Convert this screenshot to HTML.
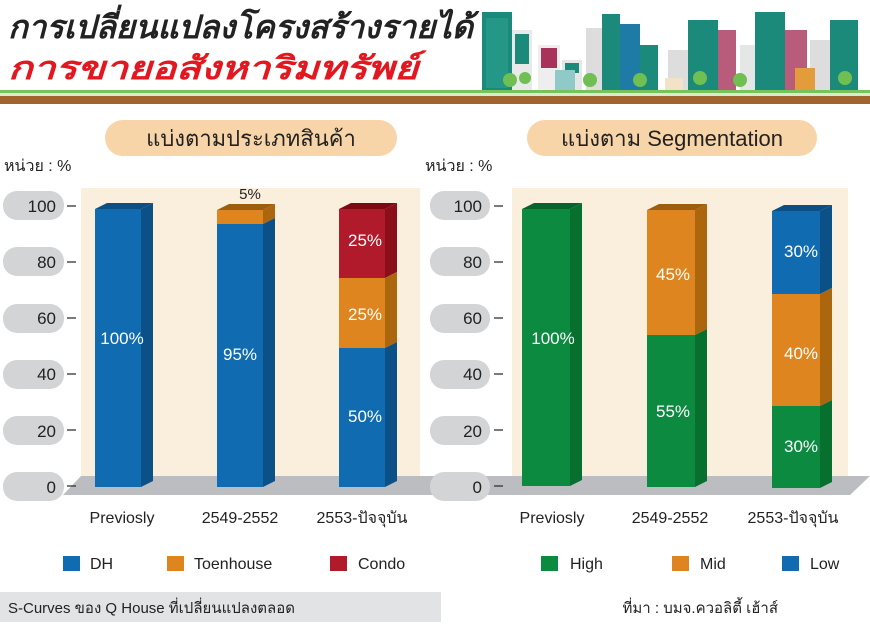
<!DOCTYPE html>
<html><head><meta charset="utf-8"><style>
body{margin:0;width:870px;height:622px;overflow:hidden;background:#fff;font-family:"Liberation Sans","Noto Sans CJK SC",sans-serif}
svg text{font-family:"Liberation Sans","Noto Sans CJK SC",sans-serif}
</style></head><body>
<svg width="870" height="622" xmlns="http://www.w3.org/2000/svg">
<!-- header -->
<text x="8" y="38" font-size="32" font-weight="bold" font-style="italic" fill="#222" textLength="465" lengthAdjust="spacingAndGlyphs">การเปลี่ยนแปลงโครงสร้างรายได้</text>
<text x="8" y="79" font-size="32" font-weight="bold" font-style="italic" fill="#e3171f" textLength="410" lengthAdjust="spacingAndGlyphs">การขายอสังหาริมทรัพย์</text>
<!-- buildings -->
<g>
<rect x="482" y="12" width="30" height="80" fill="#1c8a7a"/><rect x="486" y="18" width="22" height="70" fill="#2aa090" opacity=".6"/>
<rect x="512" y="30" width="20" height="62" fill="#e8eaea"/><rect x="515" y="34" width="14" height="30" fill="#1c8a7a"/>
<rect x="538" y="45" width="22" height="47" fill="#eee"/><rect x="541" y="48" width="16" height="20" fill="#a8325a"/>
<rect x="562" y="60" width="20" height="32" fill="#e5e7e7"/><rect x="565" y="63" width="14" height="10" fill="#1c8a7a"/>
<rect x="586" y="28" width="16" height="64" fill="#ddd"/>
<rect x="602" y="14" width="18" height="78" fill="#1c8a7a"/>
<rect x="620" y="24" width="20" height="68" fill="#1e7ba6"/>
<rect x="640" y="45" width="18" height="47" fill="#1c8a7a"/>
<rect x="668" y="50" width="20" height="42" fill="#ddd"/>
<rect x="688" y="20" width="30" height="72" fill="#1c8a7a"/><rect x="718" y="30" width="18" height="62" fill="#a8325a" opacity=".8"/>
<rect x="740" y="45" width="30" height="47" fill="#e5e7e7"/>
<rect x="755" y="12" width="30" height="80" fill="#1c8a7a"/>
<rect x="785" y="30" width="22" height="62" fill="#a8325a" opacity=".8"/>
<rect x="810" y="40" width="20" height="52" fill="#ddd"/>
<rect x="830" y="20" width="28" height="72" fill="#1c8a7a"/>
<rect x="555" y="70" width="20" height="22" fill="#8fc9c8"/><rect x="665" y="78" width="18" height="14" fill="#f1e2c8"/><rect x="795" y="68" width="20" height="24" fill="#e39c3c"/>
<circle cx="510" cy="80" r="7" fill="#6fbf52"/><circle cx="525" cy="78" r="6" fill="#6fbf52"/><circle cx="590" cy="80" r="7" fill="#6fbf52"/><circle cx="640" cy="80" r="7" fill="#6fbf52"/><circle cx="700" cy="78" r="7" fill="#6fbf52"/><circle cx="740" cy="80" r="7" fill="#6fbf52"/><circle cx="845" cy="78" r="7" fill="#6fbf52"/>
</g>
<rect x="0" y="90" width="870" height="3" fill="#78c25a"/>
<rect x="0" y="93" width="870" height="3" fill="#d8ead0"/>
<rect x="0" y="96" width="870" height="8" fill="#a0652c"/>
<!-- section headers -->
<rect x="105" y="120" width="292" height="36" rx="18" fill="#f8d5a8"/>
<text x="251" y="146" font-size="22" text-anchor="middle" fill="#222">แบ่งตามประเภทสินค้า</text>
<rect x="527" y="120" width="290" height="36" rx="18" fill="#f8d5a8"/>
<text x="672" y="146" font-size="22" text-anchor="middle" fill="#222">แบ่งตาม Segmentation</text>
<text x="4" y="171" font-size="16" fill="#222">หน่วย : %</text>
<text x="425" y="171" font-size="16" fill="#222">หน่วย : %</text>
<!-- plot backgrounds -->
<rect x="81" y="188" width="339" height="292" fill="#faefdc"/>
<rect x="512" y="188" width="336" height="292" fill="#faefdc"/>
<polygon points="81,476 420,476 420,495 63,495" fill="#bcbdc0"/>
<polygon points="420,476 870,476 850,495 420,495" fill="#bcbdc0"/>
<g fill="#d3d4d6">
<rect x="3" y="191" width="61" height="29" rx="14"/><rect x="3" y="247" width="61" height="29" rx="14"/><rect x="3" y="304" width="61" height="29" rx="14"/><rect x="3" y="360" width="61" height="29" rx="14"/><rect x="3" y="416" width="61" height="29" rx="14"/><rect x="3" y="472" width="61" height="29" rx="14"/>
<rect x="430" y="191" width="60" height="29" rx="14"/><rect x="430" y="247" width="60" height="29" rx="14"/><rect x="430" y="304" width="60" height="29" rx="14"/><rect x="430" y="360" width="60" height="29" rx="14"/><rect x="430" y="416" width="60" height="29" rx="14"/><rect x="430" y="472" width="60" height="29" rx="14"/>
</g>
<g font-size="17" fill="#222" text-anchor="end">
<text x="56" y="212">100</text><text x="56" y="268">80</text><text x="56" y="324">60</text><text x="56" y="380">40</text><text x="56" y="437">20</text><text x="56" y="493">0</text>
<text x="482" y="212">100</text><text x="482" y="268">80</text><text x="482" y="324">60</text><text x="482" y="380">40</text><text x="482" y="437">20</text><text x="482" y="493">0</text>
</g>
<g stroke="#333" stroke-width="1.3">
<line x1="67" x2="76" y1="206" y2="206"/><line x1="67" x2="76" y1="262" y2="262"/><line x1="67" x2="76" y1="318" y2="318"/><line x1="67" x2="76" y1="374" y2="374"/><line x1="67" x2="76" y1="430" y2="430"/><line x1="67" x2="76" y1="486" y2="486"/>
<line x1="494" x2="503" y1="206" y2="206"/><line x1="494" x2="503" y1="262" y2="262"/><line x1="494" x2="503" y1="318" y2="318"/><line x1="494" x2="503" y1="374" y2="374"/><line x1="494" x2="503" y1="430" y2="430"/><line x1="494" x2="503" y1="486" y2="486"/>
</g>
<polygon points="95,209 107,203 153,203 141,209" fill="#0b4f85"/>
<rect x="95" y="209" width="46" height="278" fill="#106bb0"/>
<polygon points="141,209 153,203 153,481 141,487" fill="#0b5188"/>
<polygon points="217,210 229,204 275,204 263,210" fill="#9c5e0e"/>
<rect x="217" y="210" width="46" height="14" fill="#de8520"/>
<polygon points="263,210 275,204 275,218 263,224" fill="#ac660e"/>
<rect x="217" y="224" width="46" height="263" fill="#106bb0"/>
<polygon points="263,224 275,218 275,481 263,487" fill="#0b5188"/>
<polygon points="339,209 351,203 397,203 385,209" fill="#7b0a14"/>
<rect x="339" y="209" width="46" height="69" fill="#b01a2a"/>
<polygon points="385,209 397,203 397,272 385,278" fill="#8a0f1a"/>
<rect x="339" y="278" width="46" height="70" fill="#de8520"/>
<polygon points="385,278 397,272 397,342 385,348" fill="#ac660e"/>
<rect x="339" y="348" width="46" height="139" fill="#106bb0"/>
<polygon points="385,348 397,342 397,481 385,487" fill="#0b5188"/>
<polygon points="522,209 534,203 582,203 570,209" fill="#06632b"/>
<rect x="522" y="209" width="48" height="277" fill="#0b8a40"/>
<polygon points="570,209 582,203 582,480 570,486" fill="#08702f"/>
<polygon points="647,210 659,204 707,204 695,210" fill="#9c5e0e"/>
<rect x="647" y="210" width="48" height="125" fill="#de8520"/>
<polygon points="695,210 707,204 707,329 695,335" fill="#ac660e"/>
<rect x="647" y="335" width="48" height="152" fill="#0b8a40"/>
<polygon points="695,335 707,329 707,481 695,487" fill="#08702f"/>
<polygon points="772,211 784,205 832,205 820,211" fill="#0b4f85"/>
<rect x="772" y="211" width="48" height="83" fill="#106bb0"/>
<polygon points="820,211 832,205 832,288 820,294" fill="#0b5188"/>
<rect x="772" y="294" width="48" height="112" fill="#de8520"/>
<polygon points="820,294 832,288 832,400 820,406" fill="#ac660e"/>
<rect x="772" y="406" width="48" height="82" fill="#0b8a40"/>
<polygon points="820,406 832,400 832,482 820,488" fill="#08702f"/>
<g font-size="17" fill="#fff" text-anchor="middle">
<text x="122" y="344">100%</text><text x="240" y="360">95%</text>
<text x="365" y="246">25%</text><text x="365" y="320">25%</text><text x="365" y="422">50%</text>
<text x="553" y="344">100%</text><text x="673" y="280">45%</text><text x="673" y="417">55%</text>
<text x="801" y="257">30%</text><text x="801" y="359">40%</text><text x="801" y="452">30%</text>
</g>
<text x="250" y="199" font-size="15" fill="#222" text-anchor="middle">5%</text>
<g font-size="16" fill="#222" text-anchor="middle">
<text x="122" y="523">Previosly</text><text x="240" y="523">2549-2552</text><text x="362" y="523">2553-ปัจจุบัน</text>
<text x="552" y="523">Previosly</text><text x="670" y="523">2549-2552</text><text x="793" y="523">2553-ปัจจุบัน</text>
</g>
<g font-size="16" fill="#222">
<rect x="63" y="556" width="17" height="15" fill="#106bb0"/><text x="90" y="569">DH</text>
<rect x="167" y="556" width="17" height="15" fill="#de8520"/><text x="194" y="569">Toenhouse</text>
<rect x="330" y="556" width="17" height="15" fill="#b01a2a"/><text x="358" y="569">Condo</text>
<rect x="541" y="556" width="17" height="15" fill="#0b8a40"/><text x="570" y="569">High</text>
<rect x="672" y="556" width="17" height="15" fill="#de8520"/><text x="700" y="569">Mid</text>
<rect x="782" y="556" width="17" height="15" fill="#106bb0"/><text x="810" y="569">Low</text>
</g>
<rect x="0" y="592" width="441" height="30" fill="#e2e3e5"/>
<text x="8" y="613" font-size="15" fill="#222">S-Curves ของ Q House ที่เปลี่ยนแปลงตลอด</text>
<text x="778" y="613" font-size="15" fill="#222" text-anchor="end">ที่มา : บมจ.ควอลิตี้ เฮ้าส์</text>
</svg>
</body></html>
